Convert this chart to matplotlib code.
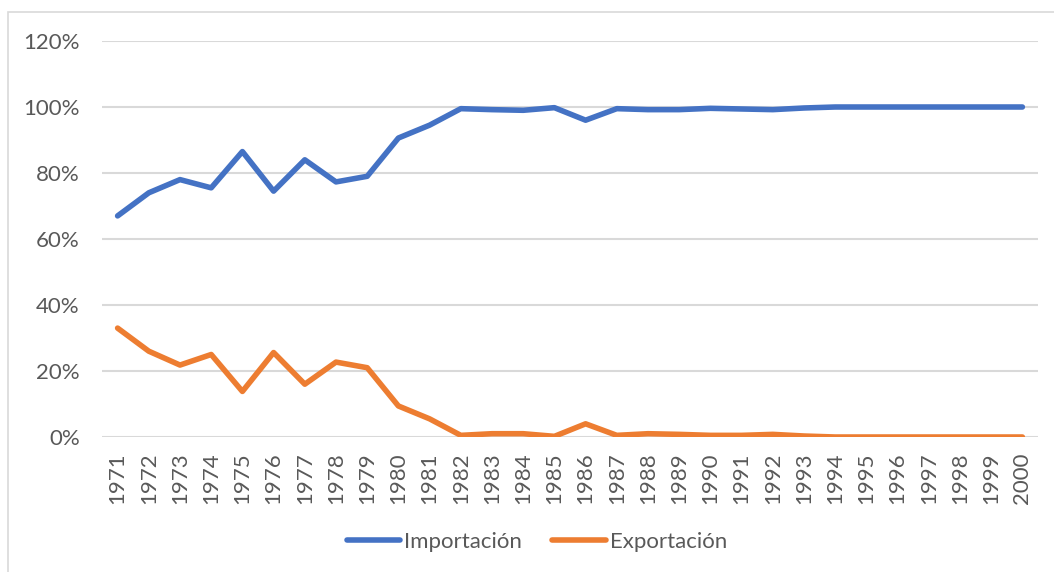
import matplotlib
matplotlib.use("Agg")
import matplotlib.pyplot as plt
from matplotlib.patches import Rectangle
from matplotlib.ticker import FuncFormatter

years = list(range(1971, 2001))
importacion = [67, 74, 78, 75.5, 86.5, 74.5, 84, 77.3, 79, 90.6, 94.5, 99.5, 99.2, 99, 99.8, 96,
               99.5, 99.2, 99.2, 99.6, 99.4, 99.2, 99.7, 100, 100, 100, 100, 100, 100, 100]
exportacion = [33, 26, 21.8, 25, 13.8, 25.6, 16, 22.7, 21, 9.4, 5.5, 0.5, 1, 1, 0.2, 4,
               0.5, 1, 0.8, 0.5, 0.5, 0.8, 0.3, 0, 0, 0, 0, 0, 0, 0]
yticks = [0, 20, 40, 60, 80, 100, 120]

plt.rcParams['font.family'] = ['Lato', 'DejaVu Sans']

fig = plt.figure(figsize=(10.54, 5.72), dpi=100)
ax = fig.add_axes([102/1054, 1-437/572, (1038-102)/1054, (437-41)/572])

fig.patches.append(Rectangle((8/1054, -0.1), 1.2, 1 - 12/572 + 0.1, transform=fig.transFigure,
                             fill=False, edgecolor='#D9D9D9', linewidth=1.2))

x = list(range(len(years)))
ax.plot(x, importacion, color='#4472C4', linewidth=4.0, solid_capstyle='round',
        solid_joinstyle='round', label='Importación', zorder=3)
ax.plot(x, exportacion, color='#ED7D31', linewidth=4.0, solid_capstyle='round',
        solid_joinstyle='round', label='Exportación', zorder=3)

ax.set_xlim(-0.5, len(years) - 0.5)
ax.set_ylim(0, 120)
ax.set_yticks(yticks)
ax.yaxis.set_major_formatter(FuncFormatter(lambda v, p: f"{int(v)}%"))
ax.set_xticks(x)
ax.set_xticklabels([str(y) for y in years], rotation=90)
ax.grid(axis='y', color='#D9D9D9', linewidth=1.5)
ax.set_axisbelow(True)
for s in ax.spines.values():
    s.set_visible(False)
ax.tick_params(axis='both', length=0, colors='#595959', labelsize=16)
ax.tick_params(axis='y', pad=16)
ax.tick_params(axis='x', pad=11)

leg = fig.legend(loc='center', bbox_to_anchor=(537/1054, 1 - 542/572), ncol=2, frameon=False,
                 fontsize=16, handlelength=2.4, handletextpad=0.2, columnspacing=1.35)
for t in leg.get_texts():
    t.set_color('#595959')

fig.savefig('out.png', dpi=100)
